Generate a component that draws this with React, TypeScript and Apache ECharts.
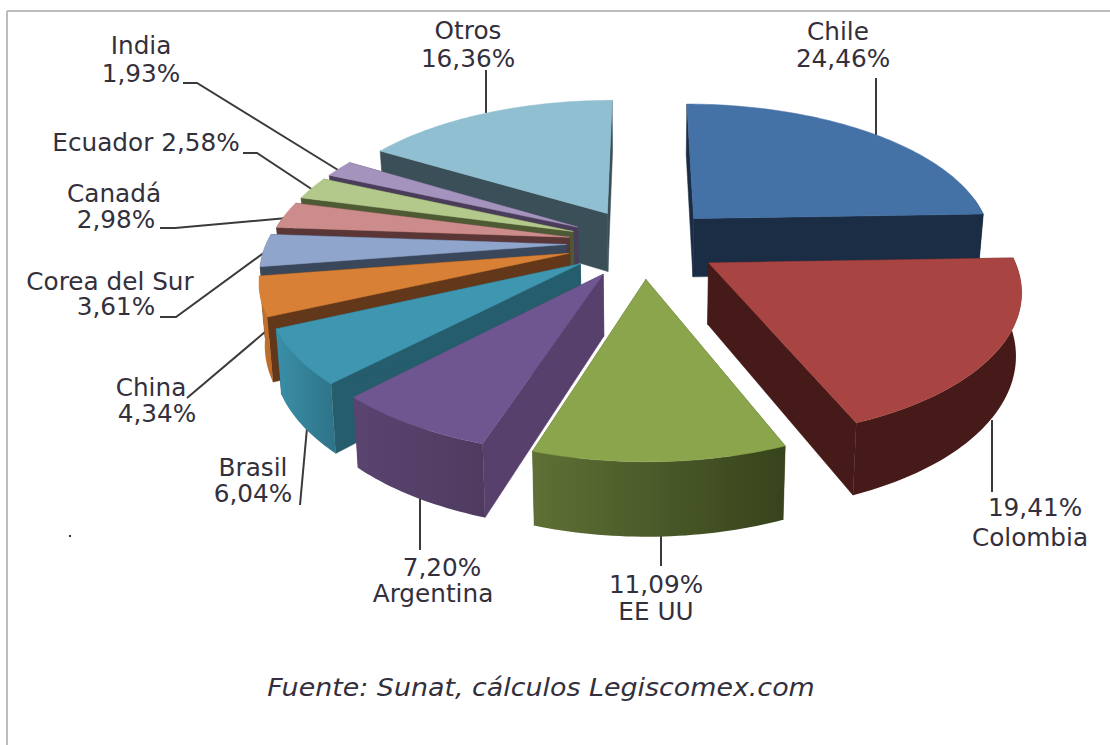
import React, { useEffect, useRef } from "react";
import * as echarts from "echarts";

const countries = ["Chile", "Colombia", "EE UU", "Argentina", "Brasil", "China", "Corea del Sur", "Canadá", "Ecuador", "India", "Otros"];
const shares = [24.46, 19.41, 11.09, 7.2, 6.04, 4.34, 3.61, 2.98, 2.58, 1.93, 16.36];
const paintOrder = [10, 0, 9, 8, 7, 6, 5, 4, 3, 2, 1];
const explodeBy = [0.25, 0.255, 0.25, 0.25, 0.25, 0.255, 0.255, 0.25, 0.25, 0.25, 0.25];
const topColors = ["#4471A6", "#A84442", "#8AA54C", "#6F5690", "#3F96B0", "#D88036", "#8FA5CC", "#CC8C8B", "#B3C98C", "#A493BC", "#8FBFD1"];
const sideColors = ["#1B2D45", "#451A18", "#4A5A28", "#57406C", "#265D6D", "#63381A", "#3A465A", "#5A3736", "#4D5A34", "#4A3D5A", "#3A4F57"];
const rimLeft = ["#1B2D45", "#451A18", "#5E7035", "#5A4470", "#3A8FA8", "#C8752F", "#3A465A", "#5A3736", "#4D5A34", "#4A3D5A", "#3A4F57"];
const rimRight = ["#1B2D45", "#451A18", "#37431C", "#4F3B60", "#2E7388", "#B86A2A", "#3A465A", "#5A3736", "#4D5A34", "#4A3D5A", "#3A4F57"];
const source = "Fuente: Sunat, cálculos Legiscomex.com";

// label placement: text centre per line, leader polyline
const labelLayout = [
  { lines: [[838, 32, "n"], [843, 59, "p"]], leader: [[876, 78], [876, 135]] },
  { lines: [[1035, 508, "p"], [1030, 538, "n"]], leader: [[992, 420], [992, 492]] },
  { lines: [[656, 585, "p"], [656, 612, "n"]], leader: [[661, 533], [661, 566]] },
  { lines: [[442, 568, "p"], [433, 594, "n"]], leader: [[420, 495], [420, 550]] },
  { lines: [[253, 468, "n"], [253, 494, "p"]], leader: [[300, 505], [307, 428]] },
  { lines: [[151, 388, "n"], [157, 414, "p"]], leader: [[187, 398], [265, 332]] },
  { lines: [[110, 282, "n"], [116, 307, "p"]], leader: [[160, 317], [176, 317], [265, 252]] },
  { lines: [[114, 194, "n"], [116, 220, "p"]], leader: [[160, 228], [175, 228], [287, 218]] },
  { lines: [[146, 143, "b"]], leader: [[243, 153], [257, 153], [313, 190]] },
  { lines: [[141, 46, "n"], [141, 74, "p"]], leader: [[183, 83], [197, 83], [338, 170]] },
  { lines: [[468, 31, "n"], [468, 59, "p"]], leader: [[486, 70], [486, 113]] },
];

const CX = 643, CY = 243, R = 300, A = 140, K = 0.16, DEPTH = 60, BOTTOM_X = 0.985;
const fmt = (v: number) => v.toFixed(2).replace(".", ",") + "%";

const project = (X: number, Y: number, down: boolean) => {
  const s = 1 / (1 - K * Y);
  const x = CX + X * R * s * (down ? BOTTOM_X : 1);
  const y = CY + Y * A * s + (down ? DEPTH * s : 0);
  return [x, y];
};

const renderSlice = (_: any, api: any) => {
  const idx = api.value(1);
  const total = shares.reduce((a, b) => a + b, 0);
  const before = shares.slice(0, idx).reduce((a, b) => a + b, 0);
  const a0 = (before / total) * Math.PI * 2;
  const a1 = ((before + api.value(0)) / total) * Math.PI * 2;
  const mid = (a0 + a1) / 2;
  const ox = Math.sin(mid) * explodeBy[idx];
  const oy = -Math.cos(mid) * explodeBy[idx];
  const pt = (a: number, r: number, down: boolean) => project(ox + Math.sin(a) * r, oy - Math.cos(a) * r, down);
  const arc = (from: number, to: number, down: boolean) => {
    const n = Math.max(2, Math.ceil(Math.abs(to - from) / 0.02));
    const out: number[][] = [];
    for (let i = 0; i <= n; i++) out.push(pt(from + ((to - from) * i) / n, 1, down));
    return out;
  };
  const face = (a: number) => ({
    type: "polygon",
    shape: { points: [pt(a, 0, false), pt(a, 1, false), pt(a, 1, true), pt(a, 0, true)] },
    style: { fill: sideColors[idx], stroke: sideColors[idx], lineWidth: 0.5 },
  });
  const children: any[] = [face(a0), face(a1)];
  const f0 = Math.max(a0, Math.PI * 0.45);
  const f1 = Math.min(a1, Math.PI * 1.55);
  if (f1 > f0) {
    children.push({
      type: "polygon",
      shape: { points: [...arc(f0, f1, false), ...arc(f1, f0, true)] },
      style: {
        fill: new echarts.graphic.LinearGradient(0, 0, 1, 0, [
          { offset: 0, color: rimLeft[idx] },
          { offset: 1, color: rimRight[idx] },
        ]),
      },
    });
  }
  children.push({
    type: "polygon",
    shape: { points: [pt(a0, 0, false), ...arc(a0, a1, false)] },
    style: { fill: topColors[idx], stroke: topColors[idx], lineWidth: 0.5 },
  });
  return { type: "group", children };
};

export default function App() {
  const ref = useRef<HTMLDivElement>(null);
  useEffect(() => {
    document.body.style.margin = "0";
    const chart = echarts.init(ref.current!, undefined, { renderer: "svg" });
    const font = { fontFamily: "DejaVu Sans", fontSize: 24, fill: "#33303c" };
    const graphics: any[] = [
      { type: "line", shape: { x1: 7, y1: 11, x2: 1110, y2: 11 }, style: { stroke: "#bdbdbd", lineWidth: 2 } },
      { type: "line", shape: { x1: 7, y1: 11, x2: 7, y2: 745 }, style: { stroke: "#bdbdbd", lineWidth: 2 } },
      { type: "rect", shape: { x: 69, y: 535, width: 2, height: 2 }, style: { fill: "#333" } },
      {
        type: "text", x: 541, y: 688, scaleX: 1.12,
        style: { ...font, text: source, fontStyle: "italic", align: "center", verticalAlign: "middle" },
      },
    ];
    labelLayout.forEach((l, i) => {
      graphics.push({ type: "polyline", shape: { points: l.leader }, style: { stroke: "#3a3a3a", lineWidth: 2, fill: "none" } });
      l.lines.forEach(([x, y, kind]) => {
        const text = kind === "n" ? countries[i] : kind === "p" ? fmt(shares[i]) : `${countries[i]} ${fmt(shares[i])}`;
        graphics.push({ type: "text", x, y, scaleX: 1.03, style: { ...font, text, align: "center", verticalAlign: "middle" } });
      });
    });
    chart.setOption({
      animation: false,
      backgroundColor: "#fff",
      graphic: graphics,
      series: [
        {
          type: "custom",
          coordinateSystem: "none",
          silent: true,
          renderItem: renderSlice,
          data: paintOrder.map((i) => [shares[i], i]),
        },
      ],
    });
    return () => chart.dispose();
  }, []);
  return <div ref={ref} style={{ width: 1110, height: 745, position: "absolute", left: 0, top: 0 }} />;
}
